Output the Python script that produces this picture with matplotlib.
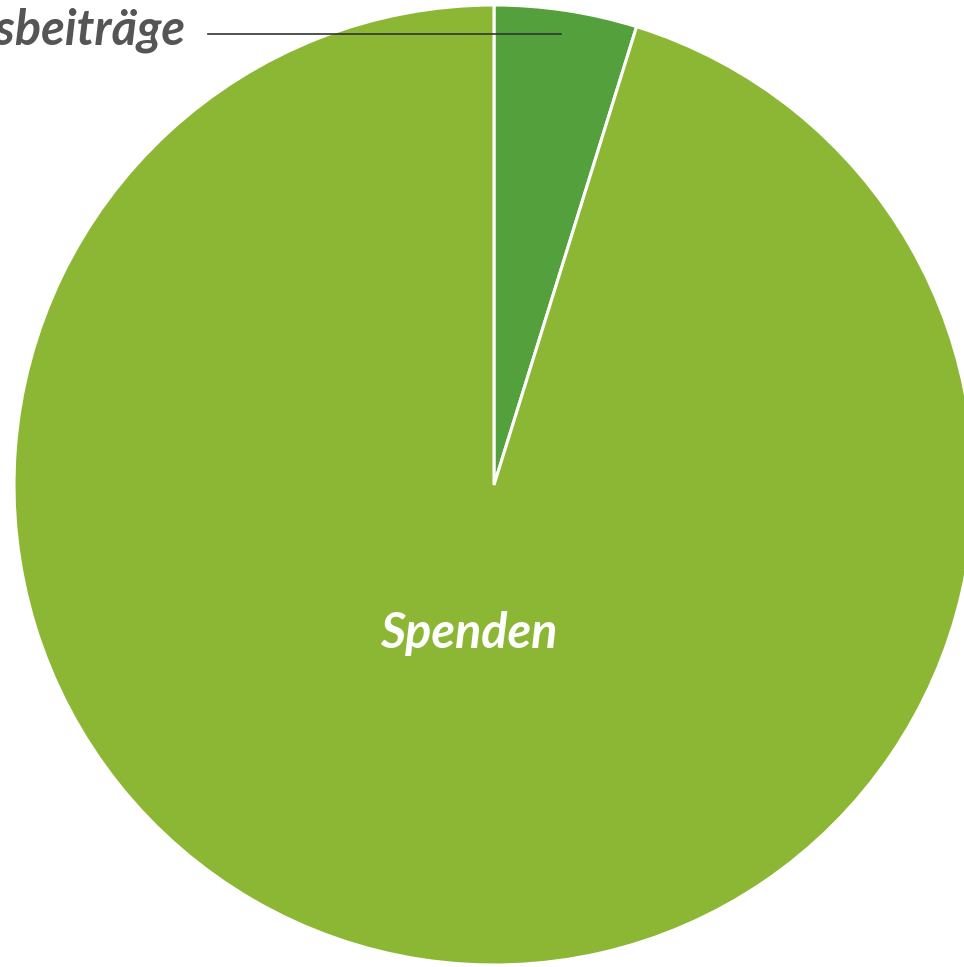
import matplotlib.pyplot as plt

labels = ["Mitgliedsbeiträge", "Spenden"]
values = [4.8, 95.2]
colors = ["#54a03c", "#8cb734"]

W, H = 964, 967
fig = plt.figure(figsize=(W / 100, H / 100), dpi=100)
ax = fig.add_axes([0, 0, 1, 1])

ax.pie(values, colors=colors, startangle=90, counterclock=False,
       center=(494, 482), radius=480, frame=True,
       wedgeprops=dict(edgecolor="white", linewidth=2.2))
ax.set_xlim(0, W)
ax.set_ylim(0, H)
ax.set_aspect("equal")
ax.axis("off")

# label for the small slice, sits outside on the left with a leader line
ax.text(185, 937, labels[0], ha="right", va="center", fontsize=35,
        fontfamily="Lato", fontweight="bold", fontstyle="italic", color="#555555")
ax.plot([208, 561], [933, 933], color="#333333", lw=1.2, zorder=5)

ax.text(469, 333, labels[1], ha="center", va="center", fontsize=35,
        fontfamily="Lato", fontweight="bold", fontstyle="italic", color="white")

fig.savefig("out.png", dpi=100)
